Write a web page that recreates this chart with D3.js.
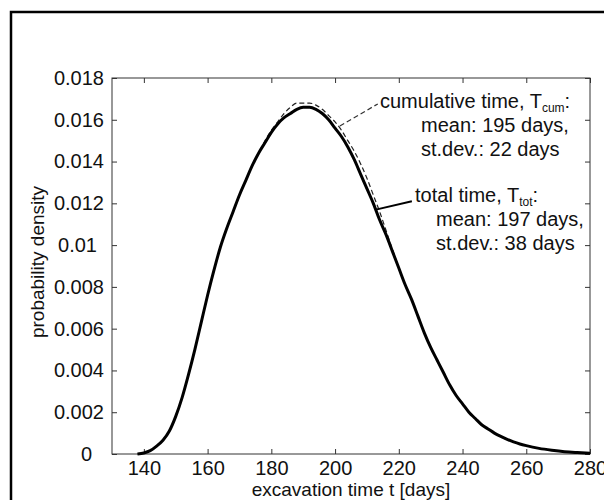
<!DOCTYPE html>
<html>
<head>
<meta charset="utf-8">
<script src="https://cdn.jsdelivr.net/npm/d3@7"></script>
<style>
  body { margin: 0; background: #fff; }
  text { font-family: 'Liberation Sans', Arial, sans-serif; fill: #111; }
</style>
</head>
<body>
<div class="chart"></div>
<script>
// excavation time t [days]
const days = [138, 140, 142, 144, 146, 148, 150, 152, 154, 156, 158, 160, 162, 164, 166, 168, 170,
  172, 174, 176, 178, 180, 182, 184, 186, 188, 190, 192, 194, 196, 198, 200, 202, 204, 206, 208, 210,
  212, 214, 216, 218, 220, 222, 224, 226, 228, 230, 232, 234, 236, 238, 240, 242, 244, 246, 248, 250,
  252, 254, 256, 258, 260, 264, 268, 272, 276, 280];

// total time T_tot (solid)
const totalDensity = [0, 0.00005, 0.00016, 0.00038, 0.00066, 0.0011, 0.0018, 0.0027, 0.0038,
  0.0050, 0.0063, 0.0076, 0.0088, 0.0099, 0.0108, 0.0116, 0.0124, 0.0131, 0.0138, 0.0144, 0.0149, 0.0154,
  0.0158, 0.0161, 0.0163, 0.0165, 0.0166, 0.0166, 0.0165, 0.0163, 0.0160, 0.0156, 0.0152, 0.0147, 0.0141,
  0.0134, 0.0127, 0.0120, 0.0112, 0.0105, 0.0097, 0.0089, 0.0081, 0.0074, 0.0066, 0.0058, 0.0051, 0.0045,
  0.0039, 0.0033, 0.0028, 0.0024, 0.0020, 0.0017, 0.0014, 0.0012, 0.0010, 0.00084, 0.0007, 0.00058,
  0.00048, 0.0004, 0.00027, 0.00018, 0.00011, 0.00007, 0.00004];

// cumulative time T_cum (dashed)
const cumulativeDensity = [0, 0.00005, 0.00016, 0.00038, 0.00066, 0.0011, 0.0018, 0.0027, 0.0038,
  0.0050, 0.0063, 0.0076, 0.0088, 0.0099, 0.0108, 0.0116, 0.0124, 0.0131, 0.0138, 0.0144, 0.0150, 0.0155,
  0.0159, 0.0163, 0.0166, 0.0168, 0.0168, 0.0168, 0.0167, 0.0165, 0.0162, 0.0159, 0.0155, 0.0150, 0.0145,
  0.0139, 0.0132, 0.0124, 0.0116, 0.0107, 0.0098, 0.0089, 0.0081, 0.0074, 0.0066, 0.0058, 0.0051, 0.0045,
  0.0039, 0.0033, 0.0028, 0.0024, 0.0020, 0.0017, 0.0014, 0.0012, 0.0010, 0.00084, 0.0007, 0.00058,
  0.00048, 0.0004, 0.00027, 0.00018, 0.00011, 0.00007, 0.00004];

const xTicks = [140, 160, 180, 200, 220, 240, 260, 280];
const yTicks = [0, 0.002, 0.004, 0.006, 0.008, 0.01, 0.012, 0.014, 0.016, 0.018];
const yTickLabels = ['0', '0.002', '0.004', '0.006', '0.008', '0.01', '0.012', '0.014', '0.016', '0.018'];

const cumLabel = ['cumulative time, T', 'cum', ':'];
const cumLines = ['mean: 195 days,', 'st.dev.: 22 days'];
const totLabel = ['total time, T', 'tot', ':'];
const totLines = ['mean: 197 days,', 'st.dev.: 38 days'];

const margin = { left: 112, right: 14, top: 78, bottom: 46 };
const chartWidth = 604;
const chartHeight = 500;
const width = chartWidth - margin.left - margin.right;
const height = chartHeight - margin.top - margin.bottom;

const root = d3.select('.chart')
  .append('svg')
  .attr('width', chartWidth)
  .attr('height', chartHeight);

// outer frame (runs off the right and bottom of the picture)
root.append('rect')
  .attr('x', 11)
  .attr('y', 12)
  .attr('width', 640)
  .attr('height', 540)
  .attr('fill', 'none')
  .attr('stroke', '#000')
  .attr('stroke-width', 2.5);

const svg = root.append('g')
  .attr('transform', `translate(${margin.left}, ${margin.top})`);

const xScale = d3.scaleLinear().domain([130, 280]).range([0, width]);
const yScale = d3.scaleLinear().domain([0, 0.018]).range([height, 0]);

svg.append('clipPath')
  .attr('id', 'plot-clip')
  .append('rect')
  .attr('width', width)
  .attr('height', height + 2);

// axes: ticks point inward, mirrored on all four sides
const axisStyle = g => {
  g.select('.domain').remove();
  g.selectAll('.tick line').attr('stroke', '#333');
  g.selectAll('text').attr('font-size', '20px').attr('fill', '#111');
};

svg.append('g')
  .attr('transform', `translate(0, ${height})`)
  .call(d3.axisBottom(xScale).tickValues(xTicks).tickSizeInner(-5).tickPadding(7).tickFormat(d3.format('d')))
  .call(axisStyle)
  .selectAll('text').attr('dy', '0.71em');

svg.append('g')
  .call(d3.axisTop(xScale).tickValues(xTicks).tickSizeInner(-5).tickFormat(''))
  .call(axisStyle);

// matlab left the short labels a bit off the right edge
const yLabelShift = { '0': -12, '0.01': -7 };
svg.append('g')
  .call(d3.axisLeft(yScale).tickValues(yTicks).tickSizeInner(-5).tickPadding(8)
    .tickFormat((d, i) => yTickLabels[i]))
  .call(axisStyle)
  .selectAll('.tick text')
  .attr('dx', function() { return yLabelShift[this.textContent] || 0; });

svg.append('g')
  .attr('transform', `translate(${width}, 0)`)
  .call(d3.axisRight(yScale).tickValues(yTicks).tickSizeInner(-5).tickFormat(''))
  .call(axisStyle);

svg.append('rect')
  .attr('width', width)
  .attr('height', height)
  .attr('fill', 'none')
  .attr('stroke', '#333')
  .attr('stroke-width', 1);

const line = d3.line()
  .x(d => xScale(d[0]))
  .y(d => yScale(d[1]))
  .curve(d3.curveMonotoneX);

const curves = svg.append('g').attr('clip-path', 'url(#plot-clip)');

curves.append('path')
  .datum(days.map((t, i) => [t, cumulativeDensity[i]]))
  .attr('d', line)
  .attr('fill', 'none')
  .attr('stroke', '#222')
  .attr('stroke-width', 1.2)
  .attr('stroke-dasharray', '5,3');

curves.append('path')
  .datum(days.map((t, i) => [t, totalDensity[i]]))
  .attr('d', line)
  .attr('fill', 'none')
  .attr('stroke', '#000')
  .attr('stroke-width', 3);

// annotations
svg.append('line')
  .attr('x1', xScale(201.5)).attr('y1', yScale(0.0157))
  .attr('x2', xScale(213.4)).attr('y2', yScale(0.01676))
  .attr('stroke', '#333')
  .attr('stroke-width', 1.2)
  .attr('stroke-dasharray', '5,3');

svg.append('line')
  .attr('x1', xScale(212.8)).attr('y1', yScale(0.0117))
  .attr('x2', xScale(224.1)).attr('y2', yScale(0.0121))
  .attr('stroke', '#000')
  .attr('stroke-width', 2);

const addLabel = (label, lines, t, v, indent) => {
  const x0 = xScale(t);
  const y0 = yScale(v);
  const head = svg.append('text')
    .attr('x', x0)
    .attr('y', y0)
    .attr('font-size', '20px');
  head.append('tspan').text(label[0]);
  head.append('tspan').attr('font-size', '12px').attr('dy', 4).text(label[1]);
  head.append('tspan').attr('dy', -4).text(label[2]);
  svg.selectAll(null)
    .data(lines)
    .enter()
    .append('text')
    .attr('x', x0 + indent)
    .attr('y', (d, i) => y0 + 24 * (i + 1))
    .attr('font-size', '20px')
    .text(d => d);
};

addLabel(cumLabel, cumLines, 214.1, 0.01656, 41);
addLabel(totLabel, totLines, 225.1, 0.01206, 21);

svg.append('text')
  .attr('x', width / 2)
  .attr('y', height + 42)
  .attr('text-anchor', 'middle')
  .attr('font-size', '19px')
  .text('excavation time t [days]');

svg.append('text')
  .attr('transform', `translate(${44 - margin.left}, ${height / 2 - 4}) rotate(-90)`)
  .attr('text-anchor', 'middle')
  .attr('font-size', '19px')
  .text('probability density');
</script>
</body>
</html>
